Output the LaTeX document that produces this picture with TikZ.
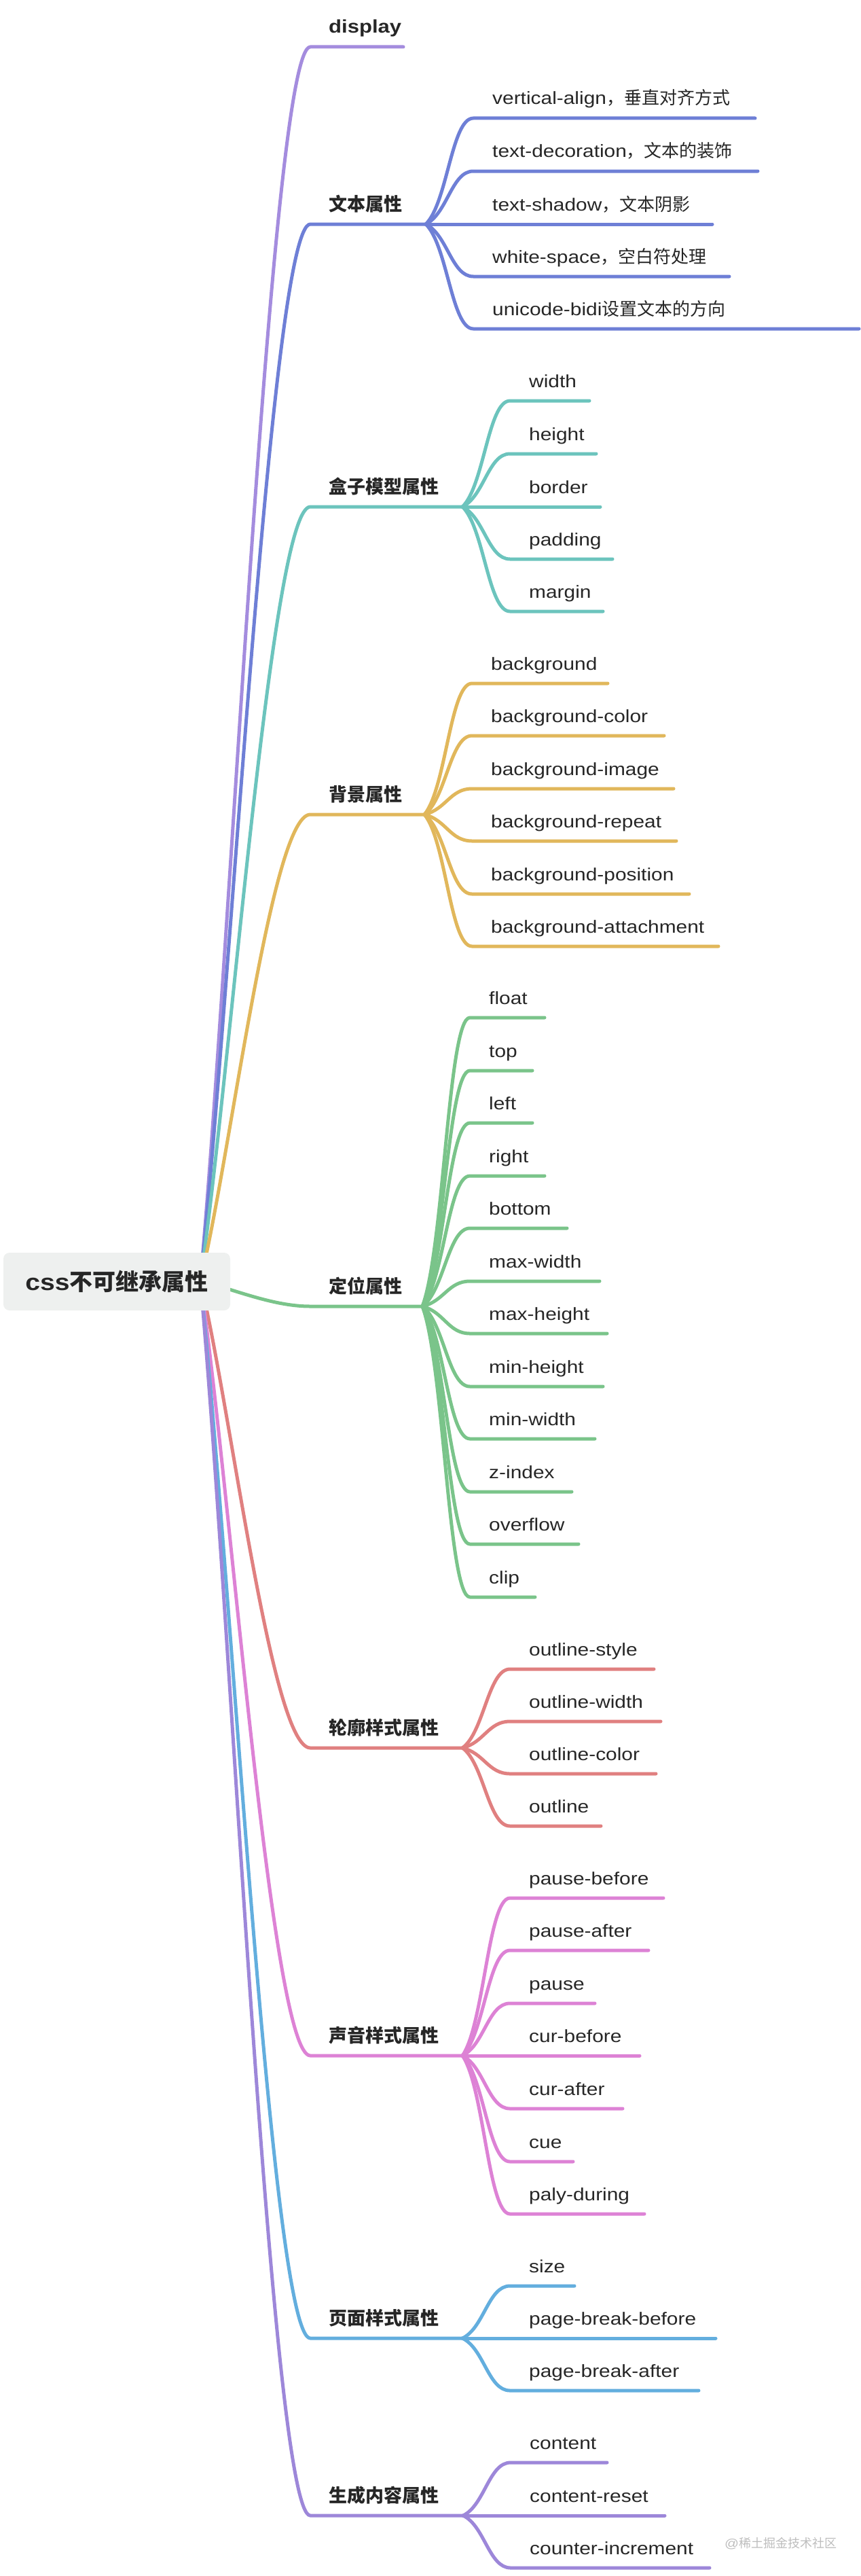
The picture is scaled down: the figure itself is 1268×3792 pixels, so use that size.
\documentclass[tikz,border=0pt]{standalone}
\usepackage{fontspec}
\setmainfont[FakeStretch=1.15]{Liberation Sans}
\newfontfamily\cjk{Noto Sans CJK SC}
\usetikzlibrary{calc,backgrounds}
\definecolor{txt}{HTML}{262626}
\definecolor{rootfill}{HTML}{EEF0EF}
\definecolor{wmc}{HTML}{BDBDBD}
\definecolor{cDisp}{HTML}{A48CDE}
\definecolor{cText}{HTML}{6E7FD6}
\definecolor{cBox}{HTML}{6CC4BD}
\definecolor{cBg}{HTML}{E1B75B}
\definecolor{cPos}{HTML}{7AC48A}
\definecolor{cOut}{HTML}{E08080}
\definecolor{cAud}{HTML}{DD82D5}
\definecolor{cPage}{HTML}{63AEDE}
\definecolor{cGen}{HTML}{9D87D9}
\tikzset{
  rootbox/.style={rectangle, rounded corners=9pt, fill=rootfill, minimum width=334pt, minimum height=85pt, inner sep=0pt, text=txt, font=\fontsize{34}{40}\selectfont\bfseries},
  lone/.style={anchor=base west, inner sep=0pt, text=txt, font=\fontsize{27}{32}\selectfont\bfseries},
  ltwo/.style={anchor=base west, inner sep=0pt, text=txt, font=\fontsize{26}{32}\selectfont},
  br/.style={line width=5pt, line cap=round, line join=round},
}
% level-1 branch: #1 colour, #2 underline y, #3 junction x, #4 name, #5 text
\newcommand\branch[5]{%
  \node[lone] (#4) at (484,{#2-20}) {#5};
  \coordinate (#4-a) at (457,#2);
  \coordinate (#4-j) at (#3,#2);
  \begin{scope}[on background layer]
    \draw[br,#1] (hub) .. controls (340,{1886+0.27*(#2-1886)}) and (400,#2) .. (#4-a) -- (#4-j);
  \end{scope}
}
% level-2 leaf: #1 colour, #2 parent, #3 jx, #4 parent y, #5 child y, #6 end x, #7 name, #8 text
\newcommand\leaf[8]{%
  \coordinate (#7-s) at ({#3+70},#5);
  \coordinate (#7-e) at (#6,#5);
  \node[ltwo] (#7) at ({#3+98},{#5-20}) {#8};
  \begin{scope}[on background layer]
    \draw[br,#1] (#2-j) .. controls ({#3+32},{#4+0.2*(#5-#4)}) and ({#3+38},#5) .. (#7-s) -- (#7-e);
  \end{scope}
}
\begin{document}
\begin{tikzpicture}[x=1pt,y=-1pt]
\useasboundingbox (0,0) rectangle (1268,3792);
\node[rootbox] (root) at (172,1886.5) {css{\cjk 不可继承属性}};
\coordinate (hub) at (295,1886);

\branch{cDisp}{69}{594}{disp}{display}
\branch{cText}{330}{627}{text}{\cjk 文本属性}
\branch{cBox}{746}{681}{box}{\cjk 盒子模型属性}
\branch{cBg}{1199}{625}{bg}{\cjk 背景属性}
\branch{cPos}{1923}{622}{pos}{\cjk 定位属性}
\branch{cOut}{2573}{681}{out}{\cjk 轮廓样式属性}
\branch{cAud}{3026}{681}{aud}{\cjk 声音样式属性}
\branch{cPage}{3442}{681}{page}{\cjk 页面样式属性}
\branch{cGen}{3703}{682}{gen}{\cjk 生成内容属性}

% 文本属性
\leaf{cText}{text}{627}{330}{174}{1112}{t1}{vertical-align{\cjk ，垂直对齐方式}}
\leaf{cText}{text}{627}{330}{252}{1116}{t2}{text-decoration{\cjk ，文本的装饰}}
\leaf{cText}{text}{627}{330}{330}{1049}{t3}{text-shadow{\cjk ，文本阴影}}
\leaf{cText}{text}{627}{330}{407}{1074}{t4}{white-space{\cjk ，空白符处理}}
\leaf{cText}{text}{627}{330}{484}{1265}{t5}{unicode-bidi{\cjk 设置文本的方向}}

% 盒子模型属性
\leaf{cBox}{box}{681}{746}{590}{868}{b1}{width}
\leaf{cBox}{box}{681}{746}{668}{878}{b2}{height}
\leaf{cBox}{box}{681}{746}{746}{884}{b3}{border}
\leaf{cBox}{box}{681}{746}{823}{902}{b4}{padding}
\leaf{cBox}{box}{681}{746}{900}{888}{b5}{margin}

% 背景属性
\leaf{cBg}{bg}{625}{1199}{1006}{895}{g1}{background}
\leaf{cBg}{bg}{625}{1199}{1083}{978}{g2}{background-color}
\leaf{cBg}{bg}{625}{1199}{1161}{992}{g3}{background-image}
\leaf{cBg}{bg}{625}{1199}{1238}{996}{g4}{background-repeat}
\leaf{cBg}{bg}{625}{1199}{1316}{1015}{g5}{background-position}
\leaf{cBg}{bg}{625}{1199}{1393}{1058}{g6}{background-attachment}

% 定位属性
\leaf{cPos}{pos}{622}{1923}{1498}{802}{p1}{float}
\leaf{cPos}{pos}{622}{1923}{1576}{784}{p2}{top}
\leaf{cPos}{pos}{622}{1923}{1653}{784}{p3}{left}
\leaf{cPos}{pos}{622}{1923}{1731}{802}{p4}{right}
\leaf{cPos}{pos}{622}{1923}{1808}{835}{p5}{bottom}
\leaf{cPos}{pos}{622}{1923}{1886}{883}{p6}{max-width}
\leaf{cPos}{pos}{622}{1923}{1963}{894}{p7}{max-height}
\leaf{cPos}{pos}{622}{1923}{2041}{888}{p8}{min-height}
\leaf{cPos}{pos}{622}{1923}{2118}{876}{p9}{min-width}
\leaf{cPos}{pos}{622}{1923}{2196}{842}{p10}{z-index}
\leaf{cPos}{pos}{622}{1923}{2273}{852}{p11}{overflow}
\leaf{cPos}{pos}{622}{1923}{2351}{788}{p12}{clip}

% 轮廓样式属性
\leaf{cOut}{out}{681}{2573}{2457}{963}{o1}{outline-style}
\leaf{cOut}{out}{681}{2573}{2534}{973}{o2}{outline-width}
\leaf{cOut}{out}{681}{2573}{2611}{966}{o3}{outline-color}
\leaf{cOut}{out}{681}{2573}{2688}{885}{o4}{outline}

% 声音样式属性
\leaf{cAud}{aud}{681}{3026}{2794}{977}{a1}{pause-before}
\leaf{cAud}{aud}{681}{3026}{2871}{955}{a2}{pause-after}
\leaf{cAud}{aud}{681}{3026}{2949}{876}{a3}{pause}
\leaf{cAud}{aud}{681}{3026}{3026}{942}{a4}{cur-before}
\leaf{cAud}{aud}{681}{3026}{3104}{917}{a5}{cur-after}
\leaf{cAud}{aud}{681}{3026}{3182}{844}{a6}{cue}
\leaf{cAud}{aud}{681}{3026}{3259}{949}{a7}{paly-during}

% 页面样式属性
\leaf{cPage}{page}{681}{3442}{3365}{846}{s1}{size}
\leaf{cPage}{page}{681}{3442}{3442}{1054}{s2}{page-break-before}
\leaf{cPage}{page}{681}{3442}{3519}{1029}{s3}{page-break-after}

% 生成内容属性
\leaf{cGen}{gen}{682}{3703}{3625}{894}{c1}{content}
\leaf{cGen}{gen}{682}{3703}{3703}{979}{c2}{content-reset}
\leaf{cGen}{gen}{682}{3703}{3780}{1045}{c3}{counter-increment}

\node[anchor=base west, inner sep=0pt, text=wmc, font=\fontsize{18}{22}\selectfont] (wm) at (1067,3750) {@{\cjk 稀土掘金技术社区}};
\end{tikzpicture}
\end{document}
